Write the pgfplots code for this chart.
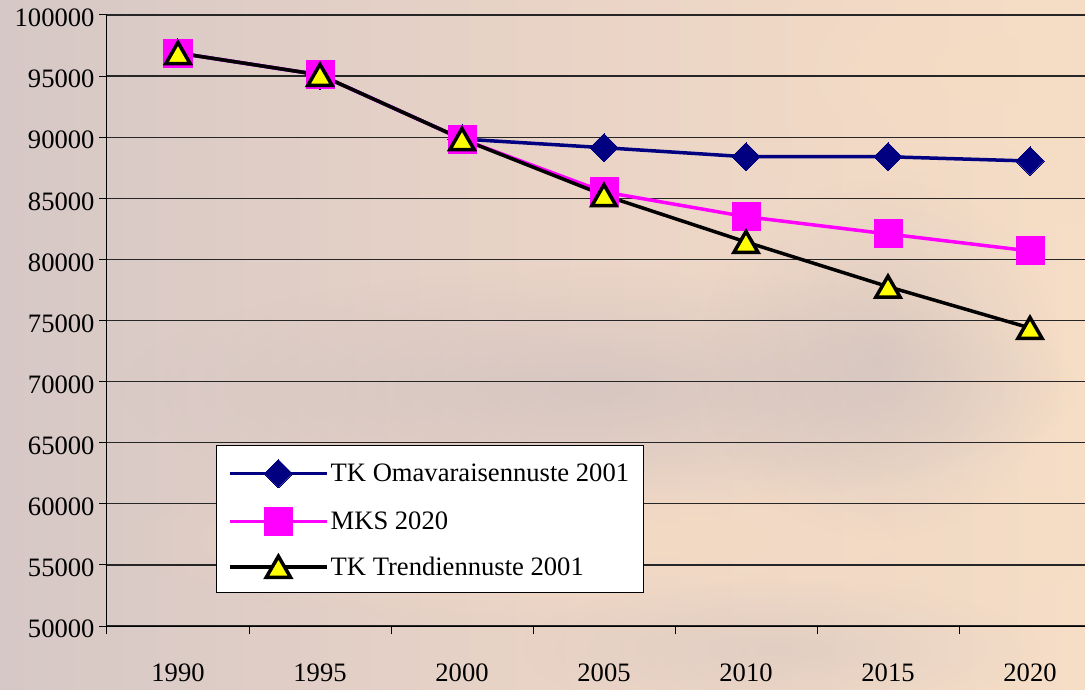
\documentclass[border=0pt]{standalone}
\usepackage{pgfplots}
\pgfplotsset{compat=1.18}
\usepackage{fontspec}
\setmainfont{Liberation Serif}
\usetikzlibrary{fadings}
\definecolor{navyc}{HTML}{000080}
\definecolor{magc}{HTML}{FF00FF}
\definecolor{yelc}{HTML}{FFFF00}
\definecolor{bgL}{HTML}{D6C8C6}
\definecolor{bgM}{HTML}{E9D3C6}
\definecolor{bgR}{HTML}{F5DDC6}
\definecolor{cloud}{HTML}{C8BCBE}
\definecolor{peach}{HTML}{F6DCC4}
\tikzfading[name=softblob, inner color=transparent!20, outer color=transparent!100]
\newcommand{\tfont}{\rmfamily\fontsize{26.6}{30}\selectfont}
\begin{document}
\begin{tikzpicture}[x=1pt,y=1pt]
\useasboundingbox (0,0) rectangle (1085,689);
\shade[left color=bgL, right color=bgR, middle color=bgM] (0,0) rectangle (1085,689);
\fill[peach, path fading=softblob, opacity=0.9] (620,150) ellipse (500 and 90);
\fill[peach, path fading=softblob, opacity=0.8] (1000,620) ellipse (300 and 160);
\fill[cloud, path fading=softblob, opacity=0.7] (600,300) ellipse (480 and 120);
\fill[cloud, path fading=softblob, opacity=0.6] (880,330) ellipse (180 and 180);
\fill[cloud, path fading=softblob, opacity=0.4] (780,40) ellipse (260 and 70);
\begin{axis}[
  at={(107pt,63pt)}, anchor=south west,
  scale only axis, width=978pt, height=611pt,
  xmin=-0.5, xmax=6.3873, ymin=50000, ymax=100000,
  axis x line*=bottom, axis y line*=left,
  axis line style={-, line width=1pt, black},
  xtick={-0.5,0.5,1.5,2.5,3.5,4.5,5.5}, xticklabels={},
  extra x ticks={0,1,2,3,4,5,6},
  extra x tick labels={1990,1995,2000,2005,2010,2015,2020},
  extra x tick style={major tick length=0pt, xticklabel style={yshift=-34pt, font=\tfont}},
  ytick={50000,55000,60000,65000,70000,75000,80000,85000,90000,95000,100000},
  yticklabels={50000,55000,60000,65000,70000,75000,80000,85000,90000,95000,100000},
  yticklabel style={font=\tfont, yshift=-3pt, xshift=-1pt},
  xticklabel style={font=\tfont},
  ymajorgrids, grid style={line width=1.2pt, black!85},
  tick align=outside, major tick length=8pt,
  tick style={black, line width=1pt},
  legend style={at={(rel axis cs:0.1111,0.2962)}, anchor=north west,
    fill=white, draw=black, line width=1pt,
    font=\tfont,
    row sep=19.5pt, inner xsep=12pt, inner ysep=14pt},
  legend cell align=left,
  legend image code/.code={\draw[mark repeat=2, mark phase=2, #1] plot coordinates {(0pt,0pt) (48.5pt,0pt) (97pt,0pt)};},
]
\addplot[navyc, line width=3.5pt, mark=square*, mark size=10pt,
  mark options={solid, rotate=45, fill=navyc, draw=navyc, line width=0pt}]
  coordinates {(0,96890) (1,95100) (2,89850) (3,89140) (4,88400) (5,88400) (6,88050)};
\addlegendentry{TK Omavaraisennuste 2001\hspace{11pt}}
\addplot[magc, line width=3.5pt, mark=square*, mark size=14pt,
  mark options={solid, fill=magc, draw=magc, line width=0pt}]
  coordinates {(0,96890) (1,95100) (2,89850) (3,85520) (4,83495) (5,82080) (6,80690)};
\addlegendentry{MKS 2020}
\addplot[black, line width=3.5pt, mark=triangle*, mark size=14pt,
  mark options={solid, fill=yelc, draw=black, line width=3.5pt, yshift=-3.5pt}]
  coordinates {(0,96890) (1,95100) (2,89850) (3,85250) (4,81425) (5,77770) (6,74390)};
\addlegendentry{TK Trendiennuste 2001}
\end{axis}
\end{tikzpicture}
\end{document}
